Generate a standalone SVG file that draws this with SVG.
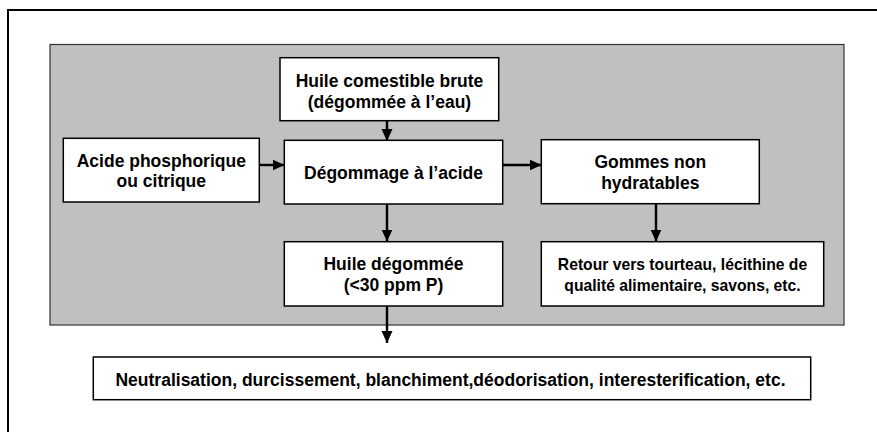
<svg xmlns="http://www.w3.org/2000/svg" width="877" height="432" viewBox="0 0 877 432">
<defs>
<style>
.box{fill:#ffffff;stroke:#000;stroke-width:1.5}
.t{font-family:"Liberation Sans",Arial,sans-serif;font-weight:bold;font-size:17.5px;fill:#000;text-anchor:middle}
.s{font-size:15.7px}
.c{stroke:#000;stroke-width:2.4;fill:none;marker-end:url(#ah)}
</style>
<marker id="ah" markerWidth="12" markerHeight="12" viewBox="0 0 12 12" refX="12" refY="6" orient="auto" markerUnits="userSpaceOnUse">
<path d="M0,0.5 L12,6 L0,11.5 Z" fill="#000"/>
</marker>
</defs>
<rect width="877" height="432" fill="#ffffff"/>
<rect id="frame" x="8" y="10" width="880" height="440" fill="none" stroke="#000" stroke-width="2"/>
<rect id="panel" x="50" y="44.5" width="794" height="280.5" fill="#c0c0c0" stroke="#333" stroke-width="1.2"/>
<g id="connectors">
<line class="c" x1="387" y1="121" x2="387" y2="141"/>
<line class="c" x1="259.5" y1="165" x2="284.5" y2="165"/>
<line class="c" x1="503" y1="165" x2="541.5" y2="165"/>
<line class="c" x1="387" y1="204" x2="387" y2="241.5"/>
<line class="c" x1="656" y1="204" x2="656" y2="241.5"/>
<line class="c" x1="387" y1="306" x2="387" y2="343"/>
</g>
<g id="huile-brute">
<rect class="box" x="280" y="57.7" width="218.7" height="63"/>
<text class="t" x="389.5" y="87.3">Huile comestible brute</text>
<text class="t" x="389.5" y="108.3">(dégommée à l’eau)</text>
</g>
<g id="acide">
<rect class="box" x="63.3" y="138.3" width="196" height="63.7"/>
<text class="t" x="161.3" y="166.7">Acide phosphorique</text>
<text class="t" x="161.3" y="187.3">ou citrique</text>
</g>
<g id="degommage">
<rect class="box" x="284.3" y="140.3" width="218.4" height="63.7"/>
<text class="t" x="393.5" y="179">Dégommage à l’acide</text>
</g>
<g id="gommes">
<rect class="box" x="541.3" y="139.7" width="218" height="64"/>
<text class="t" x="650.3" y="168.3">Gommes non</text>
<text class="t" x="650.3" y="189">hydratables</text>
</g>
<g id="huile-degommee">
<rect class="box" x="284.3" y="241.7" width="218.4" height="64.3"/>
<text class="t" x="393.5" y="270">Huile dégommée</text>
<text class="t" x="393.5" y="290.5">(&lt;30 ppm P)</text>
</g>
<g id="retour">
<rect class="box" x="541.3" y="241.7" width="282.4" height="64.3"/>
<text class="t s" x="682.5" y="270">Retour vers tourteau, lécithine de</text>
<text class="t s" x="682.5" y="291">qualité alimentaire, savons, etc.</text>
</g>
<g id="neutralisation">
<rect class="box" x="93.3" y="357" width="717.4" height="42.7"/>
<text class="t" x="450.5" y="385.5">Neutralisation, durcissement, blanchiment,déodorisation, interesterification, etc.</text>
</g>
</svg>
